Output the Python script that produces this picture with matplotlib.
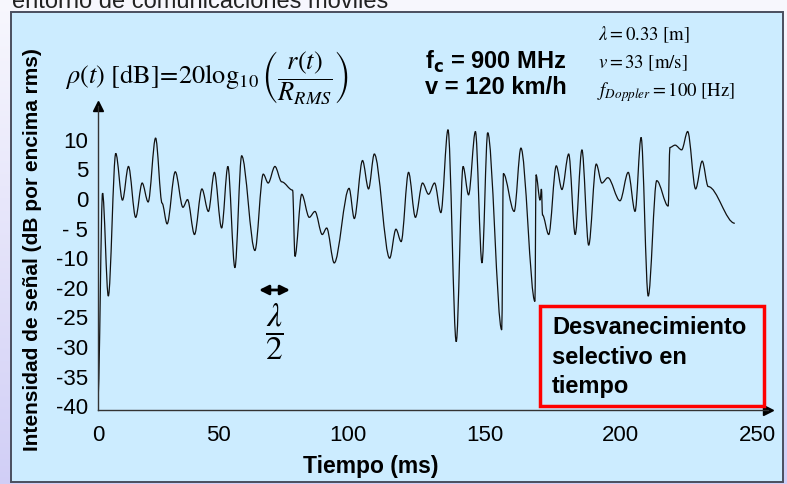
import numpy as np
import matplotlib.pyplot as plt
from matplotlib.patches import Rectangle, PathPatch
from matplotlib.path import Path

plt.rcParams['font.family'] = ['Liberation Sans', 'DejaVu Sans']
plt.rcParams['mathtext.fontset'] = 'stix'

# signal (time in ms, level in dB above rms)
t_ms = [0, 1.9, 4.3, 7.4, 10.2, 12.7, 15.7, 18.4, 20.9, 24.0,
        26.7, 28.8, 32.2, 35.4, 37.3, 40.2, 43.3, 46.0, 48.5, 51.4,
        53.8, 56.5, 59.1, 64.2, 67.4, 69.3, 71.9, 74.5, 78.7, 79.6,
        82.2, 85.1, 87.3, 90.1, 91.8, 94.7, 100.4, 102.3, 105.3, 107.5,
        109.6, 115.2, 117.5, 119.4, 122.1, 124.6, 127.2, 129.4, 131.6, 133.9,
        136.5, 139.5, 142.0, 144.0, 146.5, 148.9, 151.0, 156.2, 156.8, 160.8,
        163.3, 168.5, 168.9, 170.4, 170.9, 171.3, 173.6, 176.4, 178.5, 181.0,
        183.4, 185.9, 188.4, 191.2, 193.3, 195.5, 200.0, 203.0, 205.5, 207.7,
        210.3, 213.4, 217.6, 218.2, 220.1, 222.5, 224.7, 227.6, 230.0, 232.2,
        241.9]
rho_db = [-38.4, 1.0, -21.4, 7.7, -0.2, 5.5, -3.1, 2.7, -0.5, 10.3,
          -0.7, -4.2, 4.6, -1.4, -0.1, -6.0, 1.7, -2.1, 4.5, -4.9,
          5.5, -13.2, 7.3, -8.7, 4.2, 2.7, 5.5, 2.9, 1.5, -9.7,
          0.8, -3.1, -2.1, -6.0, -4.9, -11.6, 1.8, -3.3, 6.5, 1.7,
          7.6, -10.0, -5.1, -7.2, 4.5, -3.1, 2.7, 0.8, 2.7, -2.3,
          11.7, -29.1, 5.5, 0.7, 11.4, -11.6, 11.2, -27.1, 4.3, -2.1,
          8.6, -22.3, 4.1, -0.2, 1.7, -2.7, -6.0, 5.6, 1.6, 7.6,
          -6.0, 8.3, -7.8, 5.9, 2.7, 3.6, -0.3, 4.5, -2.1, 10.4,
          -21.4, 3.1, -1.2, 8.7, 9.1, 8.3, 11.4, 1.7, 6.4, 2.1,
          -4.1]

x_ticks = [0, 50, 100, 150, 200, 250]
y_ticks = [10, 5, 0, -5, -10, -20, -25, -30, -35, -40]
y_ticklabels = ['10', '5', '0', '- 5', '-10', '-20', '-25', '-30', '-35', '-40']

# the slide's axes are hand drawn: tick labels are not evenly spaced in value
x_anchor = [-50, 0, 50, 100, 150, 200, 250, 300]
x_px = [-22, 98, 218, 348, 485, 620, 757, 894]
y_anchor = [-45, -40, -35, -30, -25, -20, -10, -5, 0, 5, 10, 15, 20]
y_pos = [-40, -35, -30, -25, -20, -15, -10, -5, 0, 5, 10, 15, 20]

def fwd_x(t):
    return np.interp(t, x_anchor, x_px)

def inv_x(p):
    return np.interp(p, x_px, x_anchor)

def fwd_y(v):
    return np.interp(v, y_anchor, y_pos)

def inv_y(p):
    return np.interp(p, y_pos, y_anchor)

W, H = 787, 484
fig = plt.figure(figsize=(W / 100, H / 100), dpi=100)

def fx(px):
    return px / W

def fy(py):
    return 1 - py / H

# slide background
bg = fig.add_axes([0, 0, 1, 1], zorder=-10)
top = np.array([0.972, 0.972, 0.995])
bot = np.array([0.82, 0.81, 0.965])
w = np.linspace(0, 1, 200)[:, None]
grad = top * (1 - w) + bot * w
bg.imshow(grad[:, None, :], aspect='auto', extent=[0, 1, 0, 1])
bg.axis('off')

fig.patches.append(Rectangle((fx(11), fy(482)), fx(783) - fx(11), fy(12) - fy(482),
                             transform=fig.transFigure, facecolor='#CCECFF',
                             edgecolor='#4a4e5e', lw=1.4, zorder=-5))

fig.text(fx(12), fy(8), 'entorno de comunicaciones móviles', fontsize=17,
         color='#222222', ha='left', va='baseline')

ax = fig.add_axes([fx(98), fy(410), fx(768) - fx(98), fy(106) - fy(410)])
ax.patch.set_visible(False)
ax.set_xscale('function', functions=(fwd_x, inv_x))
ax.set_yscale('function', functions=(fwd_y, inv_y))
ax.set_xlim(0, inv_x(768))
ax.set_ylim(inv_y((199 - 410) / 5.92), inv_y((199 - 106) / 5.92))

# smooth line through the read points (like the slide's smoothed curve)
verts = [(t_ms[0], rho_db[0])]
codes = [Path.MOVETO]
for i in range(len(t_ms) - 1):
    dt = t_ms[i + 1] - t_ms[i]
    verts += [(t_ms[i] + dt / 3, rho_db[i]), (t_ms[i + 1] - dt / 3, rho_db[i + 1]),
              (t_ms[i + 1], rho_db[i + 1])]
    codes += [Path.CURVE4] * 3
ax.add_patch(PathPatch(Path(verts, codes), facecolor='none', edgecolor='#111111', lw=0.9))

ax.set_xticks(x_ticks)
ax.set_xticklabels([str(v) for v in x_ticks])
ax.set_yticks(y_ticks)
ax.set_yticklabels(y_ticklabels)
ax.minorticks_off()
ax.tick_params(axis='both', length=0, labelsize=16)
ax.tick_params(axis='x', pad=11)
ax.tick_params(axis='y', pad=7)
for s in ['top', 'right']:
    ax.spines[s].set_visible(False)
for s in ['left', 'bottom']:
    ax.spines[s].set_color('#333333')
    ax.spines[s].set_linewidth(1.0)
ax.plot([1], [0], marker='>', ms=7, color='black', transform=ax.transAxes, clip_on=False)
ax.plot([0], [1], marker='^', ms=7, color='black', transform=ax.transAxes, clip_on=False)

fig.text(fx(371), fy(466), 'Tiempo (ms)', fontsize=16.5, fontweight='bold',
         ha='center', va='center')
fig.text(fx(33), fy(250), 'Intensidad de señal (dB por encima rms)', fontsize=15,
         fontweight='bold', rotation=90, ha='center', va='center')

fig.text(fx(207), fy(77),
         r'$\rho(t)\ \mathrm{[dB]}\!=\!20\log_{10}\left(\dfrac{r(t)}{R_{RMS}}\right)$',
         fontsize=19, ha='center', va='center')

fig.text(fx(496), fy(74), r'f$_\mathbf{c}$ = 900 MHz' + '\nv = 120 km/h', fontsize=17,
         fontweight='bold', ha='center', va='center', multialignment='center',
         linespacing=1.05, math_fontfamily='dejavusans')

fig.text(fx(598), fy(35), r'$\lambda = 0.33\ \left[\mathrm{m}\right]$', fontsize=13.5,
         ha='left', va='center')
fig.text(fx(598), fy(63), r'$v = 33\ \left[\mathrm{m/s}\right]$', fontsize=13.5,
         ha='left', va='center')
fig.text(fx(597), fy(92), r'$f_{Doppler} = 100\ \left[\mathrm{Hz}\right]$', fontsize=13.5,
         ha='left', va='center')

# lambda/2 marker
ax.annotate('', xy=(fx(290), fy(290)), xytext=(fx(259), fy(290)),
            xycoords='figure fraction', textcoords='figure fraction',
            arrowprops=dict(arrowstyle='<|-|>', color='black', lw=2,
                            mutation_scale=14, shrinkA=0, shrinkB=0))
fig.text(fx(274), fy(332), r'$\dfrac{\lambda}{2}$', fontsize=24, ha='center', va='center')

fig.patches.append(Rectangle((fx(540), fy(406)), fx(764) - fx(540), fy(306) - fy(406),
                             transform=fig.transFigure, facecolor='#CCECFF',
                             edgecolor='#ff0000', lw=2.5, zorder=1))
fig.text(fx(552), fy(357), 'Desvanecimiento\nselectivo en\ntiempo', fontsize=17,
         fontweight='bold', ha='left', va='center', linespacing=1.36, zorder=2)

fig.savefig('out.png', dpi=100)
